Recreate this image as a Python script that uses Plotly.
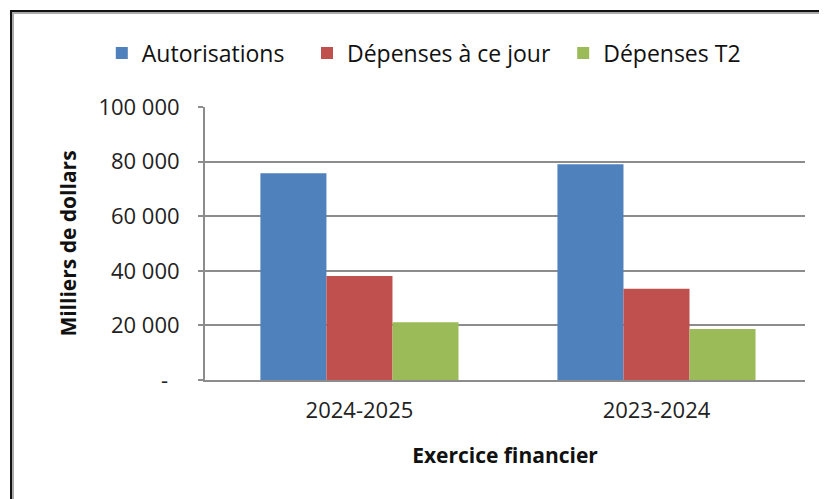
import plotly.graph_objects as go

categories = ["2024-2025", "2023-2024"]
autorisations = [75700, 79000]
depenses_a_ce_jour = [38050, 33400]
depenses_t2 = [21170, 18700]
series_names = ["Autorisations", "Dépenses à ce jour", "Dépenses T2"]
series_colors = ["#4F81BD", "#C0504D", "#9BBB59"]
y_tickvals = [0, 20000, 40000, 60000, 80000, 100000]
y_ticktext = ["-\u00a0\u00a0", "20 000", "40 000", "60 000", "80 000", "100 000"]

FONT = "Open Sans"
legend_ids = ["legend", "legend2", "legend3"]
legend_x = [-0.172, 0.170, 0.597]

fig = go.Figure()
for name, vals, col, lg in zip(series_names, [autorisations, depenses_a_ce_jour, depenses_t2],
                               series_colors, legend_ids):
    fig.add_trace(go.Bar(x=categories, y=vals, name=name, marker_color=col,
                         marker_line_width=0, legend=lg))

grid_col = "#8C8C8C"
legend_common = dict(orientation="h", y=1.198, yanchor="middle", xanchor="left",
                     font=dict(family=FONT, size=23, color="#111111"),
                     bgcolor="rgba(0,0,0,0)", borderwidth=0)
layout_legends = {lg: dict(x=lx, **legend_common) for lg, lx in zip(legend_ids, legend_x)}

fig.update_layout(
    width=819, height=491,
    margin=dict(l=197, r=22, t=99, b=119, autoexpand=False),
    paper_bgcolor="white", plot_bgcolor="white",
    barmode="group", bargap=0.333, bargroupgap=0,
    font=dict(family=FONT, size=22, color="#222222"),
    showlegend=True,
    xaxis=dict(range=[-0.52, 1.50], showgrid=False, showline=True, linecolor=grid_col, linewidth=2,
               ticks="", ticklabelstandoff=10,
               tickfont=dict(family=FONT, size=22, color="#222222"),
               title=dict(text="<b>Exercice financier</b>", standoff=25,
                          font=dict(family=FONT, size=21, color="#111111"))),
    yaxis=dict(range=[0, 100000], tickvals=y_tickvals, ticktext=y_ticktext,
               showgrid=True, gridcolor=grid_col, gridwidth=2,
               showline=True, linecolor=grid_col, linewidth=2,
               ticks="outside", ticklen=5, tickwidth=2, tickcolor=grid_col,
               ticklabelstandoff=14,
               tickfont=dict(family=FONT, size=22, color="#222222"),
               title=dict(text="<b>Milliers de dollars</b>", standoff=16,
                          font=dict(family=FONT, size=21, color="#111111")),
               zeroline=False),
    shapes=[
        dict(type="rect", xref="paper", yref="paper", x0=-0.3233, x1=1.2, y0=-0.7, y1=1.3516,
             line=dict(color="#111111", width=2), fillcolor="rgba(0,0,0,0)", layer="below"),
        dict(type="rect", xref="paper", yref="paper", x0=-0.32, x1=1.2, y0=-0.7, y1=1.3443,
             line=dict(color="#AAAAAA", width=2), fillcolor="rgba(0,0,0,0)", layer="below"),
    ],
    **layout_legends,
)

fig.write_html("out.html")
